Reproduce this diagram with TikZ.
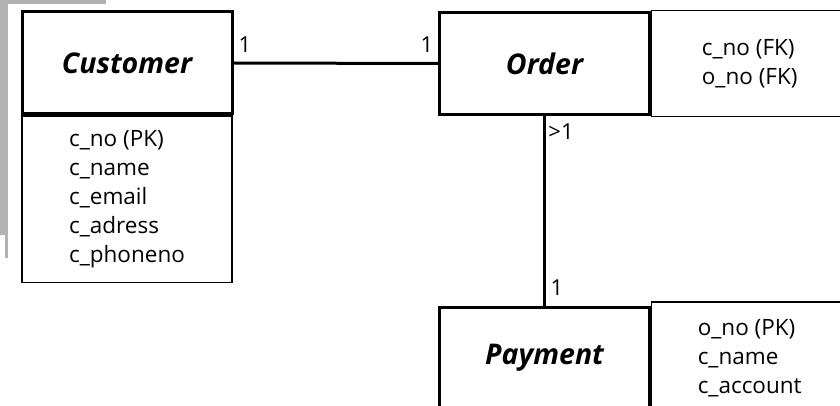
\documentclass[tikz,border=0pt]{standalone}
\usepackage{fontspec}
\setmainfont{Open Sans}
\usetikzlibrary{positioning}

\begin{document}
\begin{tikzpicture}[
  x=1pt,y=-1pt,
  entity/.style={draw,line width=3pt,minimum width=210pt,minimum height=102pt,inner sep=0pt,
    font=\fontsize{28.5}{32}\selectfont\bfseries\itshape},
  attrs/.style={draw,line width=1.4pt,inner sep=0pt,align=left,
    font=\fontsize{22.5}{29}\selectfont},
  conn/.style={line width=3pt},
  card/.style={inner sep=0pt,font=\fontsize{22}{25}\selectfont}
]
\useasboundingbox (0,0) rectangle (840,406);
\clip (0,0) rectangle (840,406);
% grey edge of the page
\fill[black!30] (0,0) rectangle (106,4);
\fill[black!30] (0,0) rectangle (8,235);
\fill[black!30] (5,235) rectangle (7.5,258);

% entities
\node[entity] (cust) at (127,63) {Customer};
\node[entity] (order) at (544.5,63.5) {Order};
\node[entity] (pay) at (544.5,358) {Payment};

% attribute boxes
\node[attrs,below=0pt of cust,minimum width=210pt,minimum height=166pt] (custattr)
  {c\_no (PK)\\c\_name\\c\_email\\c\_adress\\c\_phoneno};
\node[attrs,right=0pt of order,minimum width=196pt,minimum height=106pt] (orderattr)
  {c\_no (FK)\\o\_no (FK)};
\node[attrs,right=0pt of pay,minimum width=196pt,minimum height=112pt] (payattr)
  {o\_no (PK)\\c\_name\\c\_account};

% relations
\draw[conn] (cust.east) -- (order.west);
\draw[conn] (order.south) -- (pay.north);

% cardinalities
\node[card] (c1) at (245,45) {1};
\node[card] (c2) at (427,45) {1};
\node[card] (c3) at (561,132) {>1};
\node[card] (c4) at (557,288) {1};
\end{tikzpicture}
\end{document}
